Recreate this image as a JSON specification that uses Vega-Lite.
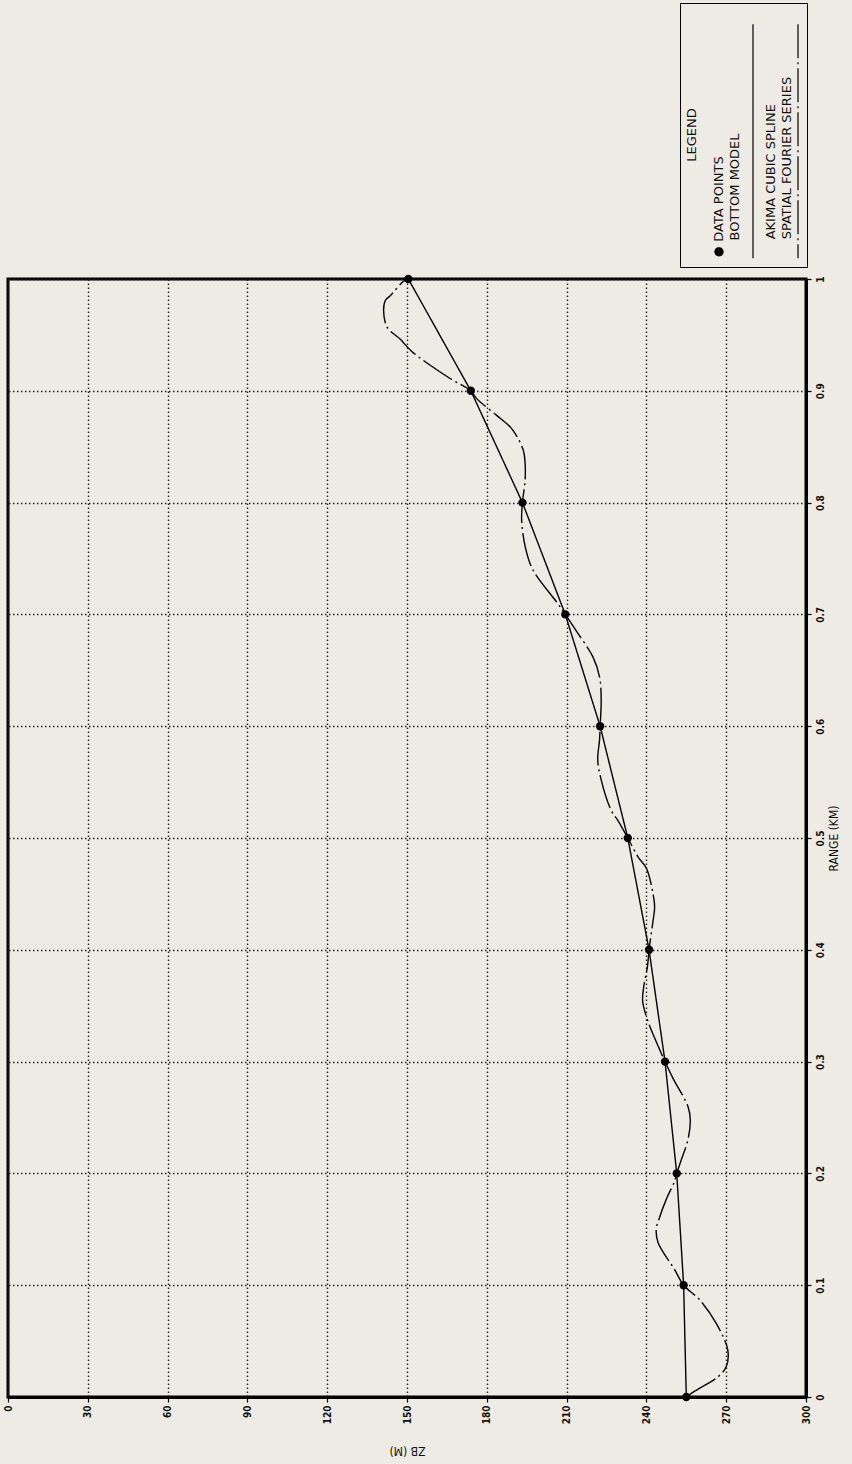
{
  "$schema": "https://vega.github.io/schema/vega-lite/v6.json",
  "width": 798,
  "height": 1118,
  "autosize": {"type": "none"},
  "padding": {"left": 8, "top": 279, "right": 46, "bottom": 67},
  "background": "#edebe3",
  "config": {
    "font": "DejaVu Sans Condensed",
    "view": {"stroke": "black", "strokeWidth": 3},
    "axis": {
      "domainColor": "black", "domainWidth": 3,
      "tickColor": "black", "tickWidth": 1.2, "tickSize": 5,
      "gridColor": "#222", "gridDash": [1.5, 2.5], "gridWidth": 1.4,
      "labelColor": "#111", "labelFont": "DejaVu Sans Condensed", "labelFontSize": 10, "labelFontWeight": "bold",
      "titleColor": "#111", "titleFont": "DejaVu Sans Condensed", "titleFontSize": 12, "titleFontWeight": "normal"
    }
  },
  "datasets": {
    "points": [
      {"range": 0.0, "depth": 255},
      {"range": 0.1, "depth": 254},
      {"range": 0.2, "depth": 251.4},
      {"range": 0.3, "depth": 247},
      {"range": 0.4, "depth": 241},
      {"range": 0.5, "depth": 233},
      {"range": 0.6, "depth": 222.6},
      {"range": 0.7, "depth": 209.5},
      {"range": 0.8, "depth": 193.4},
      {"range": 0.9, "depth": 174},
      {"range": 1.0, "depth": 150.5}
    ],
    "fourier": [
      {"range": 0.0, "depth": 255},
      {"range": 0.005, "depth": 258},
      {"range": 0.018, "depth": 266.9},
      {"range": 0.027, "depth": 270},
      {"range": 0.042, "depth": 270.6},
      {"range": 0.066, "depth": 266.2},
      {"range": 0.087, "depth": 260},
      {"range": 0.1, "depth": 254},
      {"range": 0.114, "depth": 250.6},
      {"range": 0.138, "depth": 244.4},
      {"range": 0.15, "depth": 243.7},
      {"range": 0.161, "depth": 245},
      {"range": 0.177, "depth": 247.5},
      {"range": 0.193, "depth": 250.6},
      {"range": 0.2, "depth": 251.4},
      {"range": 0.212, "depth": 253.1},
      {"range": 0.23, "depth": 255.6},
      {"range": 0.248, "depth": 256.5},
      {"range": 0.26, "depth": 255.6},
      {"range": 0.285, "depth": 250},
      {"range": 0.3, "depth": 247},
      {"range": 0.32, "depth": 243.3},
      {"range": 0.336, "depth": 240.6},
      {"range": 0.354, "depth": 238.6},
      {"range": 0.367, "depth": 239},
      {"range": 0.385, "depth": 240.4},
      {"range": 0.4, "depth": 241},
      {"range": 0.426, "depth": 242.5},
      {"range": 0.438, "depth": 243.1},
      {"range": 0.45, "depth": 242.5},
      {"range": 0.473, "depth": 240},
      {"range": 0.483, "depth": 236.9},
      {"range": 0.5, "depth": 233},
      {"range": 0.516, "depth": 229.2},
      {"range": 0.525, "depth": 226.7},
      {"range": 0.552, "depth": 223},
      {"range": 0.57, "depth": 221.7},
      {"range": 0.588, "depth": 222.4},
      {"range": 0.6, "depth": 222.6},
      {"range": 0.623, "depth": 223},
      {"range": 0.644, "depth": 222.4},
      {"range": 0.662, "depth": 219.9},
      {"range": 0.685, "depth": 213.7},
      {"range": 0.7, "depth": 209.5},
      {"range": 0.71, "depth": 206.6},
      {"range": 0.74, "depth": 197.3},
      {"range": 0.76, "depth": 194.5},
      {"range": 0.784, "depth": 193.1},
      {"range": 0.8, "depth": 193.4},
      {"range": 0.82, "depth": 194.4},
      {"range": 0.835, "depth": 194.4},
      {"range": 0.847, "depth": 193.7},
      {"range": 0.866, "depth": 189.4},
      {"range": 0.878, "depth": 183.7},
      {"range": 0.893, "depth": 176.2},
      {"range": 0.9, "depth": 174},
      {"range": 0.911, "depth": 166.2},
      {"range": 0.935, "depth": 151.9},
      {"range": 0.946, "depth": 147.5},
      {"range": 0.957, "depth": 142.5},
      {"range": 0.972, "depth": 141.2},
      {"range": 0.981, "depth": 141.9},
      {"range": 0.985, "depth": 143.7},
      {"range": 0.998, "depth": 148.7},
      {"range": 1.0, "depth": 150.5}
    ]
  },
  "encoding": {
    "x": {
      "field": "depth", "type": "quantitative",
      "scale": {"domain": [0, 300], "nice": false, "zero": false},
      "axis": {
        "orient": "bottom", "title": "ZB (M)", "titleAngle": 180, "titlePadding": 32,
        "values": [0, 30, 60, 90, 120, 150, 180, 210, 240, 270, 300],
        "labelAngle": -90, "labelAlign": "right", "labelBaseline": "middle", "labelPadding": 3,
        "format": "d", "grid": true
      }
    },
    "y": {
      "field": "range", "type": "quantitative",
      "scale": {"domain": [0, 1], "nice": false, "zero": false},
      "axis": {
        "orient": "right", "title": "RANGE (KM)", "titleAngle": -90, "titlePadding": 15,
        "values": [0, 0.1, 0.2, 0.3, 0.4, 0.5, 0.6, 0.7, 0.8, 0.9, 1],
        "labelAngle": -90, "labelAlign": "center", "labelBaseline": "middle", "labelPadding": 9,
        "format": ".1~f", "grid": true
      }
    }
  },
  "layer": [
    {
      "data": {"name": "points"},
      "mark": {"type": "line", "color": "black", "strokeWidth": 1.4},
      "encoding": {
        "order": {"field": "range"},
        "strokeDash": {
          "datum": "AKIMA CUBIC SPLINE", "type": "nominal",
          "scale": {
            "domain": ["DATA POINTS", "BOTTOM MODEL", "AKIMA CUBIC SPLINE", "SPATIAL FOURIER SERIES"],
            "range": [[1, 0], [1, 0], [1, 0], [34, 4, 2, 4]]
          },
          "legend": {
            "orient": "none", "legendX": 672, "legendY": -276,
            "direction": "horizontal",
            "title": "LEGEND", "titleOrient": "left", "titleFontSize": 13, "titleFontWeight": "normal",
            "titleFont": "DejaVu Sans", "titleColor": "#111", "titlePadding": 5,
            "strokeColor": "black", "padding": 6,
            "labelFont": "DejaVu Sans", "labelFontSize": 13, "labelColor": "#111",
            "labelOffset": -4, "labelLimit": 400,
            "symbolType": "stroke", "symbolSize": 9, "symbolStrokeWidth": 1.2, "symbolStrokeColor": "black",
            "columnPadding": 0,
            "encode": {
              "title": {"update": {"angle": {"value": -90}, "align": {"value": "center"}, "baseline": {"value": "middle"}, "y": {"value": 163}}},
              "labels": {"update": {"angle": {"value": -90}, "align": {"value": "left"}, "baseline": {"value": "middle"}, "y": {"value": 230}}},
              "symbols": {"update": {
                "shape": {"signal": "datum.value === 'DATA POINTS' ? 'M-2.7,0A2.7,2.7 0 1,1 2.7,0A2.7,2.7 0 1,1 -2.7,0Z' : 'M0,-78L0,78'"},
                "fill": {"signal": "datum.value === 'DATA POINTS' ? 'black' : 'transparent'"},
                "stroke": {"value": "black"},
                "opacity": {"signal": "datum.value === 'BOTTOM MODEL' ? 0 : 1"},
                "y": {"signal": "datum.value === 'DATA POINTS' ? 240 : 132"},
                "x": {"signal": "datum.value === 'AKIMA CUBIC SPLINE' ? -9 : datum.value === 'SPATIAL FOURIER SERIES' ? 20 : datum.value === 'BOTTOM MODEL' ? 24 : 9"}
              }}
            }
          }
        }
      }
    },
    {
      "data": {"name": "fourier"},
      "mark": {"type": "line", "color": "black", "strokeWidth": 1.4, "interpolate": "catmull-rom"},
      "encoding": {
        "order": {"field": "range"},
        "strokeDash": {"datum": "SPATIAL FOURIER SERIES", "type": "nominal"}
      }
    },
    {
      "data": {"name": "points"},
      "mark": {"type": "point", "shape": "circle", "filled": true, "color": "black", "opacity": 1, "size": 70}
    }
  ]
}
